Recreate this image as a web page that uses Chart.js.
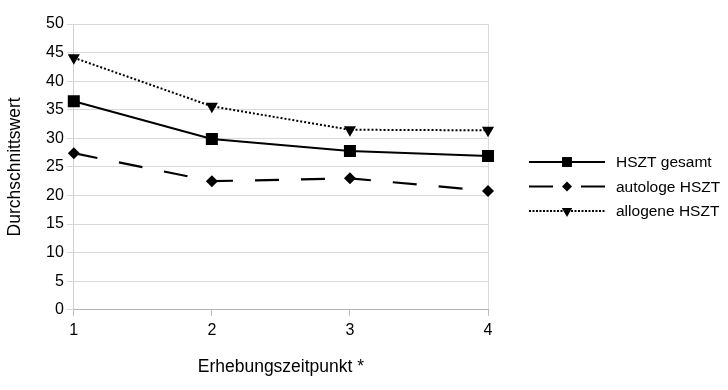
<!DOCTYPE html>
<html><head><meta charset="utf-8">
<script src="https://cdn.jsdelivr.net/npm/chart.js@4/dist/chart.umd.min.js"></script>
<style>html,body{margin:0;padding:0;background:#fff}#wrap{width:728px;height:390px}</style>
</head><body><div id="wrap"><canvas id="c" width="728" height="390"></canvas></div>
<script>
const categories = ['1', '2', '3', '4'];
const gesamt = [36.5, 29.9, 27.8, 26.9];
const autologe = [27.4, 22.5, 23.0, 20.8];
const allogene = [44.1, 35.6, 31.5, 31.4];
const seriesNames = ['HSZT gesamt', 'autologe HSZT', 'allogene HSZT'];

const FONT = "'Liberation Sans', Arial, sans-serif";
const gridGray = '#d9d9d9';

const legendPlugin = {
  id: 'customLegend',
  afterDraw(chart) {
    const ctx = chart.ctx;
    const x0 = 529, x1 = 605, tx = 616;
    const ys = [162, 186.5, 211];
    chart.data.datasets.forEach((ds, i) => {
      const y = ys[i];
      ctx.save();
      ctx.strokeStyle = '#000';
      ctx.lineWidth = ds.borderWidth;
      ctx.setLineDash(ds.legendDash || []);
      ctx.beginPath(); ctx.moveTo(x0, y); ctx.lineTo(x1, y); ctx.stroke();
      ctx.setLineDash([]);
      ctx.fillStyle = '#000';
      Chart.helpers.drawPoint(ctx, {pointStyle: ds.pointStyle, radius: ds.legendRadius, rotation: ds.pointRotation || 0, borderWidth: 0}, (x0 + x1) / 2, y);
      ctx.fillStyle = '#000';
      ctx.font = '15.5px ' + FONT;
      ctx.textBaseline = 'middle';
      ctx.textAlign = 'left';
      ctx.fillText(ds.label, tx, y + 1);
      ctx.restore();
    });
  }
};

new Chart(document.getElementById('c'), {
  type: 'line',
  data: {
    labels: categories,
    datasets: [
      {label: seriesNames[0], data: gesamt, borderColor: '#000', backgroundColor: '#000', borderWidth: 2,
       pointStyle: 'rect', pointRadius: 8.5, pointBorderWidth: 0, legendRadius: 7, legendDash: []},
      {label: seriesNames[1], data: autologe, borderColor: '#000', backgroundColor: '#000', borderWidth: 2.2,
       borderDash: [24, 22], pointStyle: 'rectRot', pointRadius: 6, pointBorderWidth: 0, legendRadius: 5, legendDash: [24, 28]},
      {label: seriesNames[2], data: allogene, borderColor: '#000', backgroundColor: '#000', borderWidth: 2,
       borderDash: [2, 2], pointStyle: 'triangle', pointRotation: 180, pointRadius: 7, pointBorderWidth: 0, legendRadius: 6, legendDash: [2, 1.5]}
    ]
  },
  options: {
    responsive: false,
    animation: false,
    layout: {padding: {left: 5, right: 240, top: 24, bottom: 12}},
    plugins: {legend: {display: false}, tooltip: {enabled: false}},
    scales: {
      x: {
        offset: false,
        grid: {
          color: (c) => (c.index === 0 || c.index === categories.length - 1) ? gridGray : 'rgba(0,0,0,0)',
          tickColor: '#bbb', tickLength: 6, drawOnChartArea: true
        },
        border: {color: '#b3b3b3'},
        ticks: {color: '#000', font: {size: 16, family: FONT}, padding: 5},
        title: {display: true, text: 'Erhebungszeitpunkt *', color: '#000', font: {size: 17.5, family: FONT}, padding: {top: 12, bottom: 0}}
      },
      y: {
        min: 0, max: 50,
        grid: {color: gridGray, tickColor: gridGray, tickLength: 7},
        border: {color: '#d0d0d0'},
        ticks: {stepSize: 5, color: '#000', font: {size: 16, family: FONT}, padding: 3},
        title: {display: true, text: 'Durchschnittswert', color: '#000', font: {size: 17.5, family: FONT}, padding: {top: 0, bottom: 17}}
      }
    }
  },
  plugins: [legendPlugin]
});
</script>
</body></html>
